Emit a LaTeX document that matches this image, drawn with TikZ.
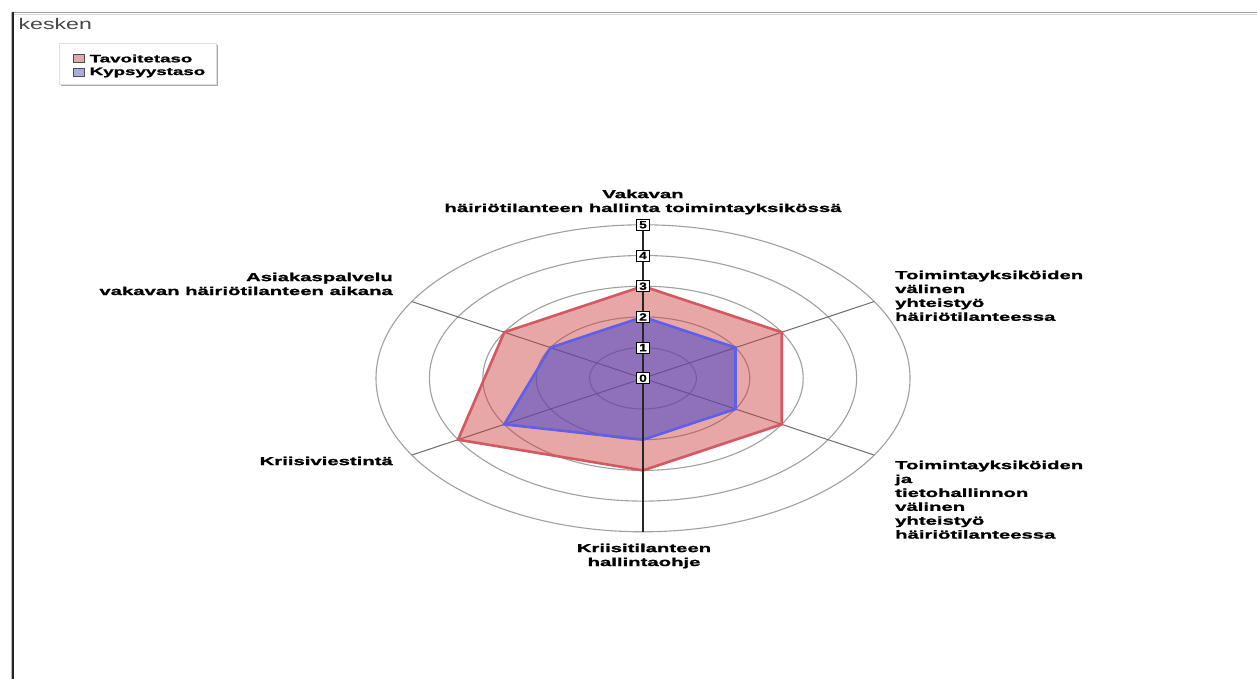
\documentclass[tikz,border=0pt]{standalone}
\usepackage{fontspec}
\setmainfont{Liberation Sans}
\newfontfamily\chartfont[FakeStretch=1.75, BoldFeatures={FakeBold=1.4}]{Liberation Sans}
\newfontfamily\numfont[FakeStretch=1.3, BoldFeatures={FakeBold=0.8}]{Liberation Sans}
\newfontfamily\kfont[FakeStretch=1.5]{Liberation Sans}
\definecolor{redfillc}{RGB}{205,60,60}
\definecolor{redlinec}{RGB}{212,88,98}
\definecolor{bluefillc}{RGB}{70,70,200}
\definecolor{bluelinec}{RGB}{95,95,232}
\definecolor{ringc}{RGB}{160,160,160}
\definecolor{spokec}{RGB}{110,110,110}
\definecolor{kgray}{RGB}{70,70,70}
\definecolor{legred}{RGB}{220,172,172}
\definecolor{legblue}{RGB}{172,172,220}
\tikzset{
  ring/.style={draw=ringc, line width=1.1},
  spoke/.style={draw=spokec, line width=1},
  mainaxis/.style={draw=black!85, line width=1.3},
  redpoly/.style={fill=redfillc, fill opacity=0.45, draw=redlinec, draw opacity=1, line width=2.6, line join=miter},
  bluepoly/.style={fill=bluefillc, fill opacity=0.55, draw=bluelinec, draw opacity=1, line width=2.6, line join=miter},
  valbox/.style={draw=black, fill=white, line width=1, minimum width=13pt, minimum height=11pt, inner sep=0pt, font=\numfont\bfseries\fontsize{10.5}{10.5}\selectfont},
  axlabel/.style={inner sep=0pt, font=\chartfont\bfseries\fontsize{11.6}{13.9}\selectfont},
  legtext/.style={inner sep=0pt, anchor=west, font=\chartfont\bfseries\fontsize{10.7}{12}\selectfont},
  legsq/.style={draw=black!70, line width=0.8, minimum width=11pt, minimum height=8.5pt, inner sep=0pt},
  kesklabel/.style={inner sep=0pt, text=kgray, font=\kfont\fontsize{15.4}{16}\selectfont}
}
\begin{document}
\begin{tikzpicture}[x=1pt,y=-1pt]
\useasboundingbox (0,0) rectangle (1257,679);
\fill[white] (0,0) rectangle (1257,679);
% window frame
\draw[gray!75, line width=1.6] (11,12.5) -- (1257,12.5);
\draw[gray!30, line width=1] (11,14.4) -- (1257,14.4);
\draw[gray!55, line width=1] (11.2,12) -- (11.2,679);
\draw[black!85, line width=1.6] (13.2,12) -- (13.2,679);
\node[kesklabel, anchor=north west] (kesken) at (18.5,18.2) {kesken};
% legend
\draw[gray!70, line width=1.2] (61,85.5) -- (217.5,85.5) -- (217.5,45);
\draw[gray!25, fill=white, line width=0.6] (59,43) rectangle (216,84.5);
\node[legsq, fill=legred] (sqr) at (79,58.5) {};
\node[legsq, fill=legblue] (sqb) at (79,72.5) {};
\node[legtext] (ltav) at (89.5,58.5) {Tavoitetaso};
\node[legtext] (lkyp) at (89.5,72.5) {Kypsyystaso};
% chart
\begin{scope}[shift={(643,378.3)}, x=53.4pt, y=30.7pt]
  \coordinate (O) at (0,0);
  \foreach \r in {1,...,5}
    \draw[ring] (O) ellipse[x radius=\r*53.4pt, y radius=\r*30.7pt];
  \foreach \a/\n in {30/ur,150/ul,210/ll,330/lr}
    \draw[spoke] (O) -- (\a:5) coordinate (end\n);
  \path[redpoly] (90:3) -- (30:3) -- (-30:3) -- (-90:3) -- (210:4) -- (150:3) -- cycle;
  \path[bluepoly] (90:2) -- (30:2) -- (-30:2) -- (-90:2) -- (210:3) -- (150:2) -- cycle;
  \draw[mainaxis] (90:5) coordinate (endt) -- (-90:5) coordinate (endb);
  \foreach \n in {0,...,5}
    \node[valbox] (v\n) at (90:\n) {\n};
\end{scope}
% axis labels
\node[axlabel, align=center, anchor=north] (ltop) at (643,189.5)
  {Vakavan\\häiriötilanteen hallinta toimintayksikössä};
\node[axlabel, align=left, anchor=north west] (lur) at (895,270.5)
  {Toimintayksiköiden\\välinen\\yhteistyö\\häiriötilanteessa};
\node[axlabel, align=left, anchor=north west] (llr) at (895,460.5)
  {Toimintayksiköiden\\ja\\tietohallinnon\\välinen\\yhteistyö\\häiriötilanteessa};
\node[axlabel, align=center, anchor=north] (lbot) at (644,543.5)
  {Kriisitilanteen\\hallintaohje};
\node[axlabel, align=right, anchor=north east] (lll) at (393,456.5)
  {Kriisiviestintä};
\node[axlabel, align=right, anchor=north east] (lul) at (393,272.5)
  {Asiakaspalvelu\\vakavan häiriötilanteen aikana};
\end{tikzpicture}
\end{document}
